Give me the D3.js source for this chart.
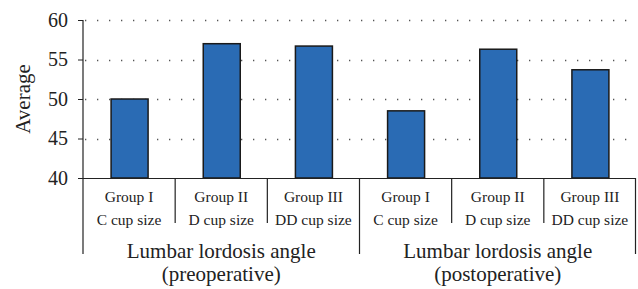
<!DOCTYPE html>
<html><head><meta charset="utf-8">
<script src="https://cdn.jsdelivr.net/npm/d3@7"></script>
<style>body{margin:0;background:#fff}svg{display:block}</style>
</head><body><svg id="c" width="638" height="289"></svg>
<script>
const groupLines1 = ["Lumbar lordosis angle", "Lumbar lordosis angle"];
const groupLines2 = ["(preoperative)", "(postoperative)"];
const subLine1 = ["Group I", "Group II", "Group III", "Group I", "Group II", "Group III"];
const subLine2 = ["C cup size", "D cup size", "DD cup size", "C cup size", "D cup size", "DD cup size"];
const values = [50.0, 57.0, 56.7, 48.5, 56.3, 53.7];
const yTicks = [40, 45, 50, 55, 60];

const FONT = "Liberation Serif";
const svg = d3.select("#c");
const L = 83, R = 636, T = 20, B = 178;
const cats = d3.range(values.length);
const x = d3.scaleBand().domain(cats).range([L, R]);
const y = d3.scaleLinear().domain([40, 60]).range([B, T]);
const gx = d3.scaleBand().domain([0, 1]).range([L, R]);

// gridlines
svg.append("g").selectAll("line").data(yTicks.slice(1)).join("line")
  .attr("x1", L + 2).attr("x2", R).attr("y1", d => Math.round(y(d)) + 0.5).attr("y2", d => Math.round(y(d)) + 0.5)
  .attr("stroke", "#555").attr("stroke-width", 1.3).attr("stroke-dasharray", "1.3,10.7");

// bars
const bw = 37;
svg.append("g").selectAll("rect").data(values).join("rect")
  .attr("x", (d, i) => x(i) + x.bandwidth() / 2 - bw / 2 + 0.5)
  .attr("y", d => y(d))
  .attr("width", bw).attr("height", d => B - y(d))
  .attr("fill", "#2a6bb4").attr("stroke", "#1a1a1a").attr("stroke-width", 1.5);

// y axis
const ya = svg.append("g").attr("transform", `translate(${L},0)`)
  .call(d3.axisLeft(y).tickValues(yTicks).tickSize(5).tickPadding(10));
ya.select(".domain").remove();
ya.selectAll(".tick line").attr("stroke", "#222");
ya.selectAll("text").attr("font-size", 20).attr("fill", "#222").attr("font-family", FONT);
svg.append("line").attr("x1", L).attr("x2", L).attr("y1", T).attr("y2", B + 76).attr("stroke", "#222").attr("stroke-width", 1.2);

// bottom baseline
svg.append("line").attr("x1", L - 5).attr("x2", R).attr("y1", B + 0.5).attr("y2", B + 0.5).attr("stroke", "#222").attr("stroke-width", 1.2);

// category separators
svg.append("g").selectAll("line").data(cats.slice(1)).join("line")
  .attr("x1", d => x(d)).attr("x2", d => x(d))
  .attr("y1", B).attr("y2", d => (d % 3 === 0 ? B + 76 : B + 45))
  .attr("stroke", "#222").attr("stroke-width", 1.2);
svg.append("line").attr("x1", R - 0.5).attr("x2", R - 0.5).attr("y1", B).attr("y2", B + 76).attr("stroke", "#222").attr("stroke-width", 1.2);

// category labels
const cl = svg.append("g").attr("font-family", FONT).attr("fill", "#222").selectAll("g").data(cats).join("g");
cl.append("text").attr("x", d => x(d) + x.bandwidth() / 2).attr("y", B + 24)
  .attr("text-anchor", "middle").attr("font-size", 15.5).text(d => subLine1[d]);
cl.append("text").attr("x", d => x(d) + x.bandwidth() / 2).attr("y", B + 47)
  .attr("text-anchor", "middle").attr("font-size", 15.5).text(d => subLine2[d]);

// group labels
const gl = svg.append("g").attr("font-family", FONT).attr("fill", "#222").selectAll("g").data([0, 1]).join("g");
gl.append("text").attr("x", d => gx(d) + gx.bandwidth() / 2).attr("y", B + 80)
  .attr("text-anchor", "middle").attr("font-size", 21).text(d => groupLines1[d]);
gl.append("text").attr("x", d => gx(d) + gx.bandwidth() / 2).attr("y", B + 103)
  .attr("text-anchor", "middle").attr("font-size", 21).text(d => groupLines2[d]);

// y label
svg.append("text").attr("transform", `translate(30,${(T + B) / 2}) rotate(-90)`)
  .attr("font-family", FONT).attr("fill", "#222")
  .attr("text-anchor", "middle").attr("font-size", 21).text("Average");
</script></body></html>
